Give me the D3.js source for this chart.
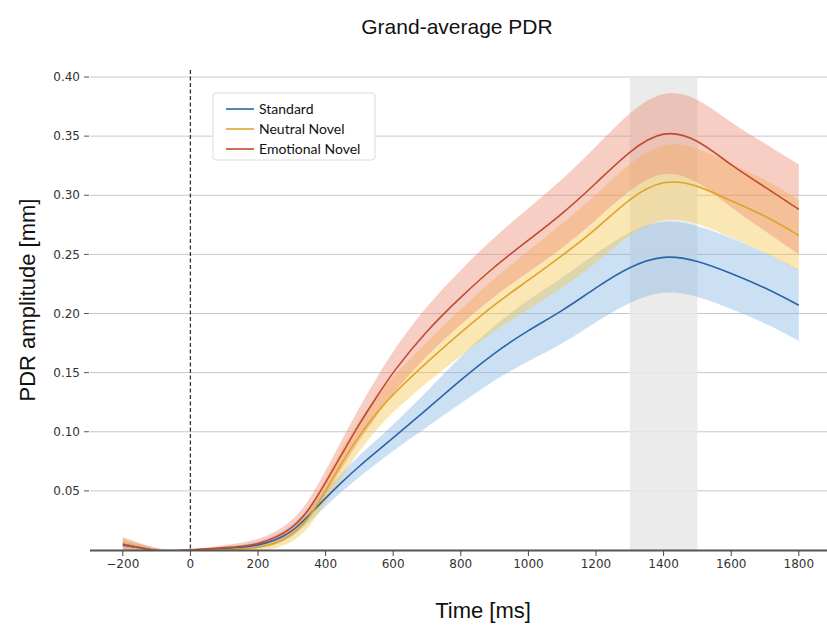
<!DOCTYPE html>
<html>
<head>
<meta charset="utf-8">
<script src="https://cdn.jsdelivr.net/npm/d3@7"></script>
<style>
  body { margin: 0; background: #fff; }
  svg { display: block; }
</style>
</head>
<body>
<div id="wrapper"></div>
<script>
const times = [-200, -150, -100, -50, 0, 50, 100, 150, 200, 250, 300, 350, 400, 450, 500, 550, 600,
  700, 800, 900, 1000, 1100, 1200, 1300, 1400, 1500, 1600, 1700, 1800];

const standardMean = [0.004, 0.002, -0.001, -0.001, 0.000, 0.000, 0.001, 0.002, 0.004, 0.008, 0.015, 0.029, 0.044,
  0.058, 0.071, 0.083, 0.095, 0.119, 0.144, 0.167, 0.186, 0.202, 0.222, 0.240, 0.250, 0.245, 0.234, 0.222, 0.207];
const standardSem = [0.004, 0.003, 0.002, 0.001, 0.001, 0.001, 0.002, 0.002, 0.003, 0.004, 0.005, 0.006, 0.007,
  0.008, 0.009, 0.010, 0.011, 0.015, 0.020, 0.023, 0.026, 0.028, 0.029, 0.030, 0.030, 0.030, 0.030, 0.030, 0.030];

const neutralMean = [0.005, 0.002, -0.001, -0.001, 0.000, 0.000, 0.000, 0.001, 0.002, 0.005, 0.012, 0.026, 0.050,
  0.075, 0.097, 0.116, 0.132, 0.159, 0.184, 0.208, 0.228, 0.249, 0.271, 0.298, 0.314, 0.309, 0.295, 0.283, 0.266];
const neutralSem = [0.005, 0.003, 0.002, 0.001, 0.001, 0.001, 0.002, 0.002, 0.003, 0.004, 0.006, 0.008, 0.010,
  0.012, 0.013, 0.014, 0.015, 0.017, 0.020, 0.022, 0.025, 0.027, 0.029, 0.030, 0.032, 0.032, 0.031, 0.031, 0.030];

const emotionalMean = [0.005, 0.002, -0.001, -0.001, 0.000, 0.001, 0.002, 0.003, 0.005, 0.010, 0.018, 0.033, 0.057,
  0.082, 0.107, 0.129, 0.151, 0.186, 0.214, 0.240, 0.262, 0.284, 0.310, 0.338, 0.356, 0.348, 0.325, 0.307, 0.288];
const emotionalSem = [0.006, 0.004, 0.002, 0.001, 0.001, 0.001, 0.002, 0.003, 0.004, 0.005, 0.006, 0.008, 0.010,
  0.012, 0.014, 0.016, 0.018, 0.021, 0.023, 0.025, 0.027, 0.029, 0.031, 0.033, 0.034, 0.035, 0.036, 0.037, 0.038];

const seriesNames = ["Standard", "Neutral Novel", "Emotional Novel"];
const xTicks = [-200, 0, 200, 400, 600, 800, 1000, 1200, 1400, 1600, 1800];
const yTicks = [0.05, 0.10, 0.15, 0.20, 0.25, 0.30, 0.35, 0.40];
const window1 = [1300, 1500];

var lineColors = d3.scaleOrdinal().domain(seriesNames).range(["#2c64a8", "#dea42a", "#c24a30"]);
var bandColors = d3.scaleOrdinal().domain(seriesNames).range(["#86b4e2", "#f6c64a", "#ec8a70"]);

var series = [
  {name: "Standard", mean: standardMean, sem: standardSem},
  {name: "Neutral Novel", mean: neutralMean, sem: neutralSem},
  {name: "Emotional Novel", mean: emotionalMean, sem: emotionalSem}
].map(s => ({
  name: s.name,
  values: times.map((t, i) => ({t: t, m: s.mean[i], lo: s.mean[i] - s.sem[i], hi: s.mean[i] + s.sem[i]}))
}));

var dimension = {width: 827, height: 628, left: 90, right: 827, top: 70, bottom: 550};

var x = d3.scaleLinear().domain([-300, 1900]).range([89, 832.6]);
var y = d3.scaleLinear().domain([0, 0.40]).range([550, 77]);

const svg = d3.select("#wrapper")
  .append("svg")
  .attr("width", dimension.width)
  .attr("height", dimension.height);

svg.append("defs").append("clipPath").attr("id", "plotclip")
  .append("rect")
  .attr("x", dimension.left).attr("y", dimension.top)
  .attr("width", dimension.right - dimension.left)
  .attr("height", dimension.bottom - dimension.top);

// title and axis labels
svg.append("text")
  .attr("x", 457).attr("y", 34)
  .attr("text-anchor", "middle")
  .style("font-family", "'Liberation Sans', Arial, sans-serif")
  .style("font-size", "21px")
  .style("fill", "#111")
  .text("Grand-average PDR");

svg.append("text")
  .attr("transform", "translate(35,300) rotate(-90)")
  .attr("text-anchor", "middle")
  .style("font-family", "'Liberation Sans', Arial, sans-serif")
  .style("font-size", "22px")
  .style("fill", "#111")
  .text("PDR amplitude [mm]");

svg.append("text")
  .attr("x", 483).attr("y", 618)
  .attr("text-anchor", "middle")
  .style("font-family", "'Liberation Sans', Arial, sans-serif")
  .style("font-size", "22px")
  .style("fill", "#111")
  .text("Time [ms]");

// grid + y ticks
var yAxis = svg.append("g").attr("class", "y-axis");
yAxis.selectAll("line.grid")
  .data(yTicks)
  .enter()
  .append("line")
  .attr("class", "grid")
  .attr("x1", dimension.left).attr("x2", dimension.right)
  .attr("y1", d => y(d)).attr("y2", d => y(d))
  .style("stroke", "#c8c8c8")
  .style("stroke-width", 1);
yAxis.selectAll("line.tick")
  .data(yTicks)
  .enter()
  .append("line")
  .attr("class", "tick")
  .attr("x1", 84).attr("x2", 89)
  .attr("y1", d => y(d)).attr("y2", d => y(d))
  .style("stroke", "#555")
  .style("stroke-width", 1);
yAxis.selectAll("text")
  .data(yTicks)
  .enter()
  .append("text")
  .attr("x", 80)
  .attr("y", d => y(d))
  .attr("dy", "0.35em")
  .attr("text-anchor", "end")
  .style("font-family", "'DejaVu Sans', sans-serif")
  .style("font-size", "12px")
  .style("fill", "#333")
  .text(d => d3.format(".2f")(d));

var plot = svg.append("g").attr("clip-path", "url(#plotclip)");

// analysis window
plot.append("rect")
  .attr("x", x(window1[0]))
  .attr("width", x(window1[1]) - x(window1[0]))
  .attr("y", y(0.40))
  .attr("height", y(0) - y(0.40))
  .style("fill", "#e8e8e8")
  .style("opacity", 0.85);

var area = d3.area()
  .x(d => x(d.t))
  .y0(d => y(d.lo))
  .y1(d => y(d.hi))
  .curve(d3.curveBasis);

var line = d3.line()
  .x(d => x(d.t))
  .y(d => y(d.m))
  .curve(d3.curveBasis);

plot.selectAll("path.band")
  .data(series)
  .enter()
  .append("path")
  .attr("class", "band")
  .attr("d", d => area(d.values))
  .style("fill", d => bandColors(d.name))
  .style("opacity", 0.42);

// stimulus onset
svg.append("line")
  .attr("x1", x(0)).attr("x2", x(0))
  .attr("y1", 70).attr("y2", 550)
  .style("stroke", "#333")
  .style("stroke-width", 1.3)
  .style("stroke-dasharray", "4,2.5");

plot.selectAll("path.mean")
  .data(series)
  .enter()
  .append("path")
  .attr("class", "mean")
  .attr("d", d => line(d.values))
  .style("fill", "none")
  .style("stroke", d => lineColors(d.name))
  .style("stroke-width", 1.6);

// x axis
svg.append("line")
  .attr("x1", dimension.left).attr("x2", dimension.right)
  .attr("y1", 550.5).attr("y2", 550.5)
  .style("stroke", "#555")
  .style("stroke-width", 2);

var xAxis = svg.append("g").attr("class", "x-axis");
xAxis.selectAll("line")
  .data(xTicks)
  .enter()
  .append("line")
  .attr("x1", d => x(d)).attr("x2", d => x(d))
  .attr("y1", 551).attr("y2", 556)
  .style("stroke", "#444")
  .style("stroke-width", 1);
xAxis.selectAll("text")
  .data(xTicks)
  .enter()
  .append("text")
  .attr("x", d => x(d))
  .attr("y", 568)
  .attr("text-anchor", "middle")
  .style("font-family", "'DejaVu Sans', sans-serif")
  .style("font-size", "12px")
  .style("fill", "#333")
  .text(d => d < 0 ? "\u2212" + Math.abs(d) : d);

// legend
var legend = svg.append("g").attr("transform", "translate(213,93)");
legend.append("rect")
  .attr("width", 162).attr("height", 67)
  .attr("rx", 3)
  .style("fill", "#fff")
  .style("stroke", "#dcdcdc");
var legendRow = legend.selectAll("g.row")
  .data(seriesNames)
  .enter()
  .append("g")
  .attr("class", "row")
  .attr("transform", (d, i) => `translate(0,${16 + i * 20})`);
legendRow.append("line")
  .attr("x1", 13).attr("x2", 41)
  .style("stroke", d => lineColors(d))
  .style("stroke-width", 1.6);
legendRow.append("text")
  .attr("x", 46)
  .attr("dy", "0.35em")
  .style("font-family", "Lato, sans-serif")
  .style("font-size", "14px")
  .style("fill", "#111")
  .text(d => d);
</script>
</body>
</html>
